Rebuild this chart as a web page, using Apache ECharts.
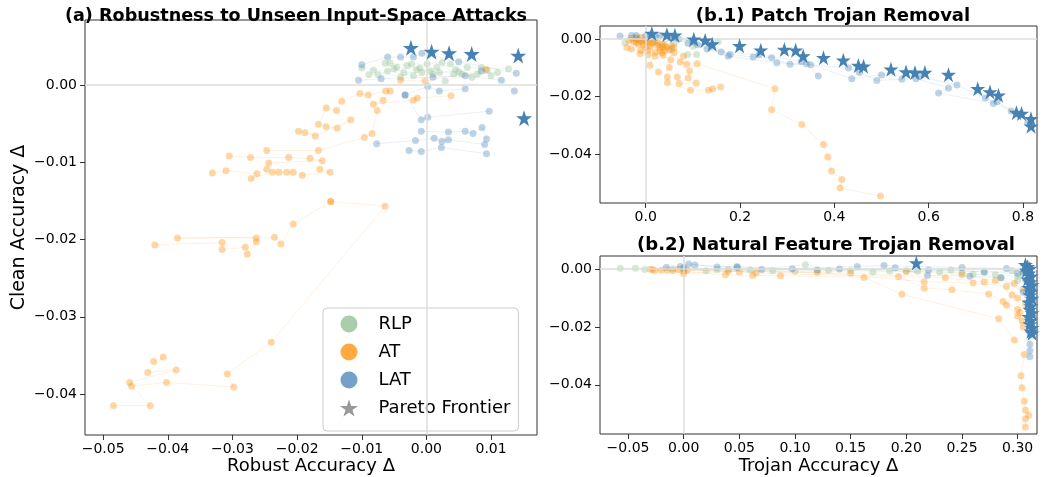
<!DOCTYPE html>
<html>
<head>
<meta charset="utf-8">
<script src="https://cdn.jsdelivr.net/npm/echarts@6/dist/echarts.min.js"></script>
<style>
  html, body { margin: 0; padding: 0; background: #fff; }
  #chart { width: 1043px; height: 477px; }
</style>
</head>
<body>
<div id="chart"></div>
<script>
// ---- (a) robustness: runs of [robust acc delta, clean acc delta]
var aRLP = [
  [[-0.0089,0.0013],[-0.0075,0.0013],[-0.0046,0.0023],[-0.0015,0.0020],[0.0006,0.0018],[0.0037,0.0027],[0.0063,0.0023],[0.0127,0.0021]],
  [[-0.0064,0.0028],[-0.0056,0.0028],[-0.0030,0.0025],[-0.0023,0.0027],[0.0001,0.0027],[0.0024,0.0029],[0.0042,0.0014],[0.0055,0.0014],[0.0079,0.0014],[0.0110,0.0016]],
  [[-0.0050,0.0021],[-0.0035,0.0016],[-0.0007,0.0016],[0.0016,0.0023],[0.0029,0.0005],[0.0094,0.0019]],
  [[-0.0100,0.0022],[-0.0060,0.0018],[-0.0020,0.0012],[0.0010,0.0014],[0.0045,0.0020],[0.0070,0.0010]],
  [[-0.0082,0.0019],[-0.0040,0.0010],[-0.0010,0.0022],[0.0020,0.0016],[0.0050,0.0017],[0.0085,0.0023],[0.0100,0.0012]]
]
var aAT = [
  [[-0.0484,-0.0415],[-0.0427,-0.0415],[-0.0456,-0.0390],[-0.0402,-0.0385],[-0.0298,-0.0391],[-0.0308,-0.0374],[-0.0240,-0.0333],[-0.0064,-0.0157],[-0.0148,-0.0151]],
  [[-0.0422,-0.0358],[-0.0407,-0.0352],[-0.0431,-0.0372],[-0.0387,-0.0369],[-0.0459,-0.0385]],
  [[-0.0420,-0.0207],[-0.0316,-0.0204],[-0.0316,-0.0213],[-0.0280,-0.0210],[-0.0277,-0.0219],[-0.0263,-0.0203],[-0.0263,-0.0198],[-0.0385,-0.0198],[-0.0235,-0.0197],[-0.0225,-0.0206],[-0.0206,-0.0180],[-0.0148,-0.0151]],
  [[-0.0331,-0.0114],[-0.0310,-0.0111],[-0.0262,-0.0115],[-0.0271,-0.0121],[-0.0238,-0.0113],[-0.0228,-0.0113],[-0.0216,-0.0113],[-0.0206,-0.0113],[-0.0192,-0.0117],[-0.0149,-0.0113],[-0.0165,-0.0109]],
  [[-0.0305,-0.0092],[-0.0272,-0.0094],[-0.0213,-0.0094],[-0.0180,-0.0095],[-0.0161,-0.0098],[-0.0244,-0.0101],[-0.0247,-0.0109]],
  [[-0.0247,-0.0085],[-0.0167,-0.0085],[-0.0096,-0.0068],[-0.0084,-0.0063],[-0.0076,-0.0033]],
  [[-0.0198,-0.0060],[-0.0188,-0.0062],[-0.0172,-0.0066],[-0.0117,-0.0045],[-0.0138,-0.0056],[-0.0155,-0.0054],[-0.0167,-0.0051],[-0.0155,-0.0030],[-0.0139,-0.0033]],
  [[-0.0131,-0.0021],[-0.0103,-0.0011],[-0.0090,-0.0013],[-0.0063,-0.0008],[-0.0056,-0.0008],[-0.0067,-0.0020],[-0.0082,-0.0025],[-0.0020,-0.0020],[-0.0014,-0.0017],[0.0038,-0.0014]],
  [[-0.0040,0.0006],[-0.0002,0.0005],[0.0092,0.0020]]
]
var aLAT = [
  [[-0.0100,0.0026],[-0.0060,0.0036],[-0.0040,0.0036],[-0.0020,0.0036],[-0.0007,0.0041],[0.0050,0.0030],[0.0139,0.0015]],
  [[-0.0105,0.0006],[-0.0070,0.0008],[0.0010,0.0010],[0.0060,0.0012],[0.0116,0.0006],[0.0136,-0.0008]],
  [[-0.0033,-0.0013],[0.0002,-0.0002],[0.0020,-0.0008],[0.0060,-0.0005],[0.0085,0.0018]],
  [[-0.0033,-0.0013],[-0.0008,-0.0045],[0.0002,-0.0042],[0.0097,-0.0034]],
  [[-0.0008,-0.0060],[0.0034,-0.0061],[0.0060,-0.0060],[0.0072,-0.0063],[0.0086,-0.0055],[0.0093,-0.0070]],
  [[-0.0077,-0.0076],[-0.0017,-0.0072],[0.0012,-0.0069],[0.0024,-0.0073],[0.0034,-0.0071],[0.0090,-0.0077]],
  [[-0.0027,-0.0085],[-0.0008,-0.0086],[0.0023,-0.0081],[0.0093,-0.0089]]
]
var aPareto = [[-0.0024,0.0048],[0.0008,0.0043],[0.0035,0.0041],[0.0070,0.0040],[0.0142,0.0038],[0.0151,-0.0043]]

// ---- (b.1) patch trojan: runs of [trojan acc delta, clean acc delta]
var b1RLP = [
  [[-0.044,-0.0013],[-0.010,-0.0008],[0.020,-0.0010],[0.037,-0.0028],[0.055,-0.0036],[0.089,-0.0054],[0.108,-0.0054]],
  [[-0.020,0.0005],[0.015,0.0002],[0.060,-0.0015],[0.100,-0.0025],[0.154,-0.0010]]
]
var b1AT = [
  [[-0.035,-0.0005],[-0.020,-0.0012],[-0.005,-0.0020],[0.010,-0.0025],[0.030,-0.0030],[0.050,-0.0038],[0.073,-0.0080],[0.087,-0.0088],[0.109,-0.0086],[0.274,-0.0173],[0.267,-0.0246],[0.331,-0.0297],[0.377,-0.0367],[0.386,-0.0410],[0.394,-0.0459],[0.416,-0.0488],[0.412,-0.0518],[0.498,-0.0546]],
  [[-0.030,0.0002],[-0.015,-0.0018],[0.000,-0.0030],[0.020,-0.0045],[0.009,-0.0091],[0.027,-0.0115],[0.046,-0.0132],[0.046,-0.0152],[0.095,-0.0178],[0.133,-0.0178],[0.142,-0.0173],[0.159,-0.0167]],
  [[-0.025,-0.0010],[-0.012,-0.0051],[0.005,-0.0040],[0.037,-0.0057],[0.053,-0.0072],[0.050,-0.0099],[0.067,-0.0132],[0.071,-0.0155],[0.107,-0.0153]],
  [[-0.020,0.0000],[-0.005,-0.0008],[0.010,-0.0015],[0.025,-0.0022],[0.040,-0.0040],[0.060,-0.0048],[0.093,-0.0111],[0.090,-0.0136]],
  [[-0.010,0.0005],[0.000,-0.0005],[0.015,-0.0012],[0.035,-0.0018],[0.045,-0.0028],[0.060,-0.0030],[0.080,-0.0060]],
  [[-0.040,-0.0030],[-0.030,-0.0035],[-0.010,-0.0040],[0.005,-0.0055],[0.020,-0.0060],[0.035,-0.0048]],
  [[-0.015,-0.0002],[0.005,-0.0010],[0.025,-0.0014],[0.040,-0.0020],[0.055,-0.0025],[0.030,-0.0040]]
]
var b1LAT = [
  [[-0.0545,0.0010],[-0.020,0.0012],[0.020,0.0008],[0.060,0.0005],[0.100,-0.0010],[0.140,-0.0025],[0.179,-0.0054],[0.228,-0.0063],[0.267,-0.0065],[0.306,-0.0088],[0.341,-0.0086],[0.366,-0.0129]],
  [[-0.030,0.0012],[0.010,0.0015],[0.050,0.0005],[0.090,-0.0015],[0.130,-0.0035],[0.175,-0.0060],[0.278,-0.0083],[0.350,-0.0090],[0.430,-0.0101],[0.453,-0.0117],[0.490,-0.0144],[0.543,-0.0140],[0.573,-0.0138],[0.642,-0.0170],[0.621,-0.0188],[0.737,-0.0224],[0.745,-0.0218],[0.790,-0.0262],[0.810,-0.0290]],
  [[0.000,0.0010],[0.030,0.0012],[0.070,0.0000],[0.110,-0.0020],[0.160,-0.0045],[0.240,-0.0055],[0.330,-0.0078],[0.437,-0.0138],[0.500,-0.0125],[0.580,-0.0130],[0.660,-0.0160],[0.720,-0.0205],[0.775,-0.0250]]
]
var b1Pareto = [[0.013,0.0019],[0.045,0.0015],[0.062,0.0013],[0.102,-0.0001],[0.126,-0.0005],[0.141,-0.0018],[0.199,-0.0024],[0.244,-0.0039],[0.294,-0.0037],[0.318,-0.0039],[0.334,-0.0059],[0.377,-0.0065],[0.419,-0.0074],[0.451,-0.0092],[0.462,-0.0095],[0.520,-0.0105],[0.552,-0.0115],[0.571,-0.0117],[0.592,-0.0117],[0.642,-0.0124],[0.704,-0.0173],[0.730,-0.0184],[0.748,-0.0196],[0.786,-0.0256],[0.797,-0.0259],[0.817,-0.0277],[0.817,-0.0303]]

// ---- (b.2) natural feature trojan
var b2RLP = [
  [[-0.057,0.0003],[-0.0434,0.0003],[-0.035,-0.0002],[0.000,-0.0001],[0.030,-0.0002],[0.060,-0.0003],[0.1094,0.0015],[0.130,-0.0004],[0.200,-0.0005],[0.240,-0.0003],[0.270,-0.0010],[0.295,-0.0005],[0.305,-0.0015]],
  [[-0.010,0.0000],[0.020,-0.0006],[0.080,-0.0006],[0.150,-0.0005],[0.185,-0.0007],[0.230,-0.0010],[0.260,-0.0018],[0.280,-0.0020],[0.300,-0.0025],[0.307,-0.0040]],
  [[0.040,-0.0002],[0.100,-0.0008],[0.170,-0.0010],[0.210,-0.0008],[0.250,-0.0012],[0.285,-0.0030],[0.300,-0.0040]]
]
var b2AT = [
  [[-0.030,-0.0001],[-0.026,-0.0005],[-0.015,-0.0004],[0.000,-0.0008],[0.0375,-0.0020],[0.062,-0.0022],[0.087,-0.0023],[0.162,-0.0029],[0.196,-0.0087],[0.283,-0.0172],[0.297,-0.0245],[0.306,-0.0295],[0.303,-0.0369],[0.304,-0.0410],[0.306,-0.0457],[0.307,-0.0488],[0.310,-0.0505],[0.307,-0.0517],[0.307,-0.0546]],
  [[-0.020,-0.0004],[-0.005,-0.0002],[0.050,-0.0010],[0.065,-0.0014],[0.193,-0.0026],[0.216,-0.0066],[0.241,-0.0072],[0.274,-0.0086],[0.287,-0.0112],[0.300,-0.0140],[0.304,-0.0180]],
  [[-0.010,-0.0006],[0.000,-0.0016],[0.040,-0.0008],[0.120,-0.0012],[0.216,-0.0044],[0.260,-0.0048],[0.290,-0.0060],[0.300,-0.0100],[0.302,-0.0150]],
  [[-0.028,-0.0002],[0.003,-0.0004],[0.150,-0.0015],[0.235,-0.0030],[0.270,-0.0045],[0.297,-0.0050],[0.305,-0.0070],[0.307,-0.0120]],
  [[0.200,-0.0009],[0.250,-0.0020],[0.280,-0.0040],[0.295,-0.0090],[0.290,-0.0125],[0.300,-0.0162],[0.305,-0.0200]]
]
var b2LAT = [
  [[-0.0156,0.0006],[-0.003,0.0009],[0.0045,0.0017],[0.030,0.0007],[0.048,0.0009],[0.0975,0.0001],[0.156,0.0009],[0.180,0.0012],[0.250,0.0005],[0.290,0.0002],[0.305,-0.0010]],
  [[0.010,0.0014],[0.048,0.0005],[0.120,-0.0003],[0.190,0.0004],[0.219,-0.0022],[0.257,-0.0025],[0.285,-0.0030],[0.305,-0.0080],[0.310,-0.0140],[0.311,-0.0260],[0.311,-0.0282],[0.311,-0.0303]],
  [[0.000,0.0004],[0.070,-0.0002],[0.140,0.0000],[0.220,-0.0003],[0.270,-0.0010],[0.300,-0.0015],[0.310,-0.0050]]
]
var b2Pareto = [[0.209,0.0021],[0.307,0.0015],[0.309,0.0008],[0.311,0.0002],[0.308,-0.0005],[0.310,-0.0015],[0.312,-0.0025],[0.309,-0.0035],[0.311,-0.0045],[0.313,-0.0055],[0.310,-0.0065],[0.312,-0.0078],[0.311,-0.0090],[0.313,-0.0102],[0.310,-0.0115],[0.312,-0.0128],[0.311,-0.0140],[0.313,-0.0152],[0.310,-0.0165],[0.312,-0.0178],[0.311,-0.0190],[0.313,-0.0203],[0.312,-0.0215],[0.313,-0.0222]]

var aXTicks = [-0.05, -0.04, -0.03, -0.02, -0.01, 0, 0.01]
var aYTicks = [-0.04, -0.03, -0.02, -0.01, 0]
var b1XTicks = [0, 0.2, 0.4, 0.6, 0.8]
var b2XTicks = [-0.05, 0, 0.05, 0.10, 0.15, 0.20, 0.25, 0.30]
var bYTicks = [-0.04, -0.02, 0]

var cRLP = '#8fbc8f', cAT = '#ff8c00', cLAT = '#4682b4'
var starPath = 'path://M50,0 L61.8,35.3 L99,35.3 L69,57.1 L80.4,92.5 L50,70.7 L19.6,92.5 L31,57.1 L1,35.3 L38.2,35.3 Z'
var FONT = 'DejaVu Sans'

var fmt = function(d) {
  return function(v) { return v.toFixed(d).replace('-', '\u2212') }
}

var mkX = function(idx, min, max, ticks, d, name, gap) {
  return {
    type: 'value', gridIndex: idx, min: min, max: max,
    name: name || '', nameLocation: 'middle', nameGap: gap || 23, nameMoveOverlap: false,
    nameTextStyle: { fontFamily: FONT, fontSize: 18, color: '#000' },
    axisLine: { show: false, onZero: false },
    axisTick: { show: true, length: 5, customValues: ticks, lineStyle: { color: '#333' } },
    axisLabel: { customValues: ticks, formatter: fmt(d), fontFamily: FONT, fontSize: 14, color: '#000', margin: 7 },
    splitLine: { show: false }
  }
}
var mkY = function(idx, min, max, ticks, name) {
  return {
    type: 'value', gridIndex: idx, min: min, max: max,
    name: name || '', nameLocation: 'middle', nameGap: 56, nameMoveOverlap: false,
    nameTextStyle: { fontFamily: FONT, fontSize: 19, color: '#000' },
    axisLine: { show: false, onZero: false },
    axisTick: { show: true, length: 5, customValues: ticks, lineStyle: { color: '#333' } },
    axisLabel: { customValues: ticks, formatter: fmt(2), fontFamily: FONT, fontSize: 14, color: '#000', margin: 8 },
    splitLine: { show: false }
  }
}

var series = []
var addZero = function(idx) {
  series.push({
    type: 'line', xAxisIndex: idx, yAxisIndex: idx, data: [], silent: true, z: 0,
    markLine: {
      silent: true, symbol: 'none', label: { show: false }, animation: false,
      lineStyle: { color: '#dddddd', width: 1.5, type: 'solid' },
      data: [{ xAxis: 0 }, { yAxis: 0 }]
    }
  })
}
var addRuns = function(runs, color, idx, name) {
  runs.forEach(function(r) {
    series.push({
      type: 'line', xAxisIndex: idx, yAxisIndex: idx, data: r, symbol: 'none',
      silent: true, z: 1, lineStyle: { color: color, width: 1, opacity: 0.12 }
    })
  })
  series.push({
    type: 'scatter', name: name, xAxisIndex: idx, yAxisIndex: idx,
    data: [].concat.apply([], runs), symbolSize: 7, z: 2,
    itemStyle: { color: color, opacity: 0.35 }
  })
}
var addStars = function(pts, idx, size) {
  series.push({
    type: 'scatter', name: 'Pareto Frontier', xAxisIndex: idx, yAxisIndex: idx,
    data: pts, symbol: starPath, symbolSize: size, z: 5,
    itemStyle: { color: cLAT, opacity: 1 }
  })
}

;[0, 1, 2].forEach(addZero)
addRuns(aRLP, cRLP, 0, 'RLP'); addRuns(aAT, cAT, 0, 'AT'); addRuns(aLAT, cLAT, 0, 'LAT'); addStars(aPareto, 0, 16)
addRuns(b1RLP, cRLP, 1, 'RLP'); addRuns(b1AT, cAT, 1, 'AT'); addRuns(b1LAT, cLAT, 1, 'LAT'); addStars(b1Pareto, 1, 15)
addRuns(b2RLP, cRLP, 2, 'RLP'); addRuns(b2AT, cAT, 2, 'AT'); addRuns(b2LAT, cLAT, 2, 'LAT'); addStars(b2Pareto, 2, 15)

var titleStyle = { fontFamily: FONT, fontSize: 18, fontWeight: 'bold', color: '#000' }
var gridBase = { show: true, borderColor: '#333', borderWidth: 1, backgroundColor: 'transparent', outerBoundsMode: 'none', containLabel: false }
var chart = echarts.init(document.getElementById('chart'))
chart.setOption({
  animation: false,
  backgroundColor: '#fff',
  title: [
    { text: '(a) Robustness to Unseen Input-Space Attacks', left: 291, top: 2, textAlign: 'center', textStyle: Object.assign({}, titleStyle, { fontSize: 17.6 }) },
    { text: '(b.1) Patch Trojan Removal', left: 828, top: 2, textAlign: 'center', textStyle: titleStyle },
    { text: '(b.2) Natural Feature Trojan Removal', left: 821, top: 231, textAlign: 'center', textStyle: titleStyle }
  ],
  grid: [
    Object.assign({ left: 85, top: 20, width: 452, height: 415 }, gridBase),
    Object.assign({ left: 600, top: 26, width: 437, height: 177 }, gridBase),
    Object.assign({ left: 600, top: 256, width: 437, height: 178 }, gridBase)
  ],
  xAxis: [
    mkX(0, -0.0528, 0.0171, aXTicks, 2, 'Robust Accuracy \u0394', 22),
    mkX(1, -0.0969, 0.8297, b1XTicks, 1),
    mkX(2, -0.0752, 0.3174, b2XTicks, 2, 'Trojan Accuracy \u0394', 23)
  ],
  yAxis: [
    mkY(0, -0.0453, 0.0084, aYTicks, 'Clean Accuracy \u0394'),
    mkY(1, -0.057, 0.0045, bYTicks),
    mkY(2, -0.057, 0.0045, bYTicks)
  ],
  legend: {
    orient: 'vertical', left: 323, top: 308,
    padding: [7, 8, 14, 17], itemGap: 10, itemWidth: 26, itemHeight: 17,
    borderColor: '#cccccc', borderWidth: 1, borderRadius: 4, backgroundColor: 'rgba(255,255,255,0.8)',
    textStyle: { fontFamily: FONT, fontSize: 18, color: '#000' },
    formatter: function(n) { return '  ' + n },
    data: [
      { name: 'RLP', icon: 'circle', itemStyle: { color: cRLP, opacity: 0.75 } },
      { name: 'AT', icon: 'circle', itemStyle: { color: cAT, opacity: 0.75 } },
      { name: 'LAT', icon: 'circle', itemStyle: { color: cLAT, opacity: 0.75 } },
      { name: 'Pareto Frontier', icon: starPath, itemStyle: { color: '#999999', opacity: 1 } }
    ],
    selectedMode: false
  },
  series: series
})
</script>
</body>
</html>
